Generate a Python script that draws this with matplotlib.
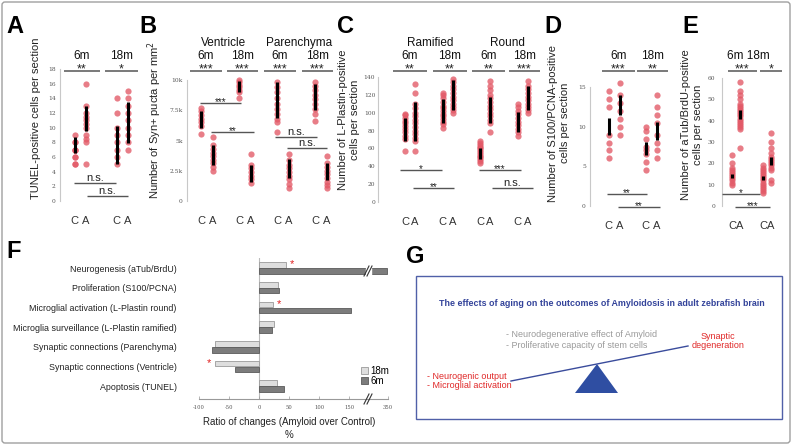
import matplotlib
matplotlib.use('Agg')
import matplotlib.pyplot as plt
from matplotlib.patches import Rectangle, Polygon, FancyBboxPatch
import numpy as np

plt.rcParams['font.family'] = ['Liberation Sans', 'DejaVu Sans']

W, H = 792, 445
fig = plt.figure(figsize=(W / 100, H / 100), dpi=100)

# ---------------------------------------------------------------- data
# Panel A: TUNEL-positive cells per section (6m, 18m)
a_ctrl = [[5, 5, 6, 6, 7, 7, 7, 8, 8, 9], [5, 6, 7, 8, 9, 10, 12, 14]]
a_amy = [[5, 8, 8.5, 9, 10, 10.5, 11, 11.5, 12, 13, 16], [7, 8, 9, 10, 11, 12, 13, 14, 15]]
a_ctrl_bar = [(6.5, 8.7), (5.1, 10.2)]
a_amy_bar = [(9.6, 13.0), (7.9, 13.5)]
a_ticks = [0, 2, 4, 6, 8, 10, 12, 14, 16, 18]

# Panel B: Syn+ puncta per mm2 (Ventricle 6m/18m, Parenchyma 6m/18m)
b_ctrl = [[7700, 7400, 7100, 6800, 6500, 6200, 5500],
          [10000, 9800, 9600, 9400, 9200, 9000, 8500],
          [9800, 9400, 9000, 8500, 8000, 7600, 7200, 6800, 6500, 5700],
          [9800, 9500, 9200, 8800, 8400, 8000, 7600, 7200, 6600]]
b_amy = [[5300, 4600, 4300, 4000, 3700, 3400, 3100, 2800, 2500],
         [3900, 3000, 2700, 2400, 2100, 1800, 1500],
         [3900, 3400, 3000, 2700, 2400, 2100, 1800, 1400, 1100],
         [3700, 3100, 2800, 2500, 2200, 1900, 1600, 1300, 1100]]
b_ctrl_bar = [(6000, 7400), (9000, 9900), (6900, 9800), (7500, 9700)]
b_amy_bar = [(3000, 4600), (1600, 3000), (1900, 3500), (1700, 3100)]
b_ticks = [0, 2500, 5000, 7500, 10000]
b_ticklabels = ['0', '2.5k', '5k', '7.5k', '10k']

# Panel C: L-Plastin-positive cells (Ramified 6m/18m, Round 6m/18m)
c_ctrl = [[57, 70, 74, 78, 82, 85, 88, 91, 94, 97, 98],
          [83, 87, 90, 93, 96, 99, 102, 105, 108, 112, 116, 120, 122],
          [44, 46, 48, 50, 52, 54, 56, 58, 60, 62, 64, 66, 68],
          [74, 78, 82, 86, 90, 94, 98, 102, 106, 110]]
c_amy = [[57, 68, 72, 76, 80, 84, 88, 92, 96, 100, 105, 110, 122, 132],
         [100, 103, 106, 110, 114, 118, 122, 126, 130, 134, 138],
         [78, 88, 92, 96, 100, 104, 108, 112, 116, 120, 125, 130, 135],
         [100, 103, 106, 110, 114, 118, 122, 126, 130, 135]]
c_ctrl_bar = [(68, 94), (88, 115), (48, 60), (78, 101)]
c_amy_bar = [(68, 112), (103, 137), (88, 118), (103, 130)]
c_ticks = [0, 20, 40, 60, 80, 100, 120, 140]

# Panel D: S100/PCNA-positive cells (6m, 18m)
d_ctrl = [[6, 7, 8, 9, 12.5, 13.5, 14.5], [4.5, 5.5, 6.5, 7, 7.5, 8.5, 9.5, 10]]
d_amy = [[9, 10, 11, 12, 13, 14, 15.5], [6, 7, 8, 9, 10.5, 11.5, 12.5, 14]]
d_ctrl_bar = [(8.9, 11.1), (6.4, 8.1)]
d_amy_bar = [(11.5, 14.0), (8.3, 10.6)]
d_ticks = [0, 5, 10, 15]

# Panel E: aTub/BrdU-positive cells (6m, 18m)
e_ctrl = [[10, 11, 12, 13, 14, 15, 16, 17, 18, 20, 24],
          [6, 7, 8, 9, 10, 11, 12, 13, 14, 15, 16, 17, 18, 19]]
e_amy = [[27, 36, 37, 38, 39, 40, 41, 42, 43, 44, 45, 46, 47, 48, 50, 52, 54, 58],
         [11, 12, 17, 18, 19, 20, 21, 22, 23, 25, 27, 30, 34]]
e_ctrl_bar = [(13.2, 15.0), (12.0, 14.0)]
e_amy_bar = [(41.0, 45.0), (19.0, 23.0)]
e_ticks = [0, 10, 20, 30, 40, 50, 60]

# Panel F: ratio of changes (Amyloid over Control), %
f_cats = ['Neurogenesis (aTub/BrdU)', 'Proliferation (S100/PCNA)',
          'Microglial activation (L-Plastin round)',
          'Microglia surveillance (L-Plastin ramified)',
          'Synaptic connections (Parenchyma)', 'Synaptic connections (Ventricle)',
          'Apoptosis (TUNEL)']
f_18m = [45, 32, 24, 25, -73, -73, 30]
f_6m = [345, 34, 153, 22, -79, -40, 42]
f_sig18 = [True, False, True, False, False, True, False]
f_ticks = [-100, -50, 0, 50, 100, 150, 350]

# ---------------------------------------------------------------- helpers
def px_axes(x0, y0, x1, y1, **kw):
    return fig.add_axes([x0 / W, 1 - y1 / H, (x1 - x0) / W, (y1 - y0) / H], **kw)

DOT = '#e25866'


def scatter_panel(left, right, c0, sp, ybot, ytop, ymax, off_px, ctrl, amy,
                  cbar, abar, ticks, ticklabels=None, pad=3):
    ax = px_axes(left, ytop, right, ybot)
    n = len(ctrl)
    off = off_px / sp
    ax.set_xlim((left - c0) / sp, (right - c0) / sp)
    ax.set_ylim(0, ymax)
    xs = []
    for i in range(n):
        xc, xa = i - off, i + off
        xs += [xc, xa]
        ax.scatter([xc] * len(ctrl[i]), ctrl[i], s=20, color=DOT, alpha=0.78,
                   linewidths=0, zorder=2, clip_on=False)
        ax.scatter([xa] * len(amy[i]), amy[i], s=20, color=DOT, alpha=0.78,
                   linewidths=0, zorder=2, clip_on=False)
        ax.plot([xc, xc], cbar[i], color='black', lw=2.2, zorder=3, solid_capstyle='butt')
        ax.plot([xa, xa], abar[i], color='black', lw=2.2, zorder=3, solid_capstyle='butt')
    for s in ['top', 'right', 'bottom']:
        ax.spines[s].set_visible(False)
    ax.spines['left'].set_color('#c8c8c8')
    ax.spines['left'].set_linewidth(0.8)
    ax.set_yticks(ticks)
    ax.set_yticklabels(ticklabels if ticklabels else [str(t) for t in ticks],
                       fontsize=4.3, color='#555', family='DejaVu Serif')
    ax.tick_params(axis='y', length=0, pad=pad)
    ax.set_xticks(xs)
    ax.set_xticklabels(['C', 'A'] * n, fontsize=8, color='#333')
    ax.tick_params(axis='x', length=0, pad=11)
    ax.patch.set_alpha(0)
    return ax


# ---------------------------------------------------------------- scatter panels
scatter_panel(60, 140, 80, 42, 201, 201 - 18 * 7.33, 18, 5.5,
              a_ctrl, a_amy, a_ctrl_bar, a_amy_bar, a_ticks)
scatter_panel(187, 338, 207, 38, 201, 80, 10000, 6,
              b_ctrl, b_amy, b_ctrl_bar, b_amy_bar, b_ticks, b_ticklabels)
scatter_panel(378, 545, 410, 37.5, 202, 77, 140, 5,
              c_ctrl, c_amy, c_ctrl_bar, c_amy_bar, c_ticks, pad=2)
scatter_panel(590, 672, 614, 37, 206, 87, 15, 5.5,
              d_ctrl, d_amy, d_ctrl_bar, d_amy_bar, d_ticks)
scatter_panel(722, 786, 736, 31, 206, 78, 60, 4,
              e_ctrl, e_amy, e_ctrl_bar, e_amy_bar, e_ticks, pad=5)

# ---------------------------------------------------------------- panel F
def fwd(v):
    v = np.asarray(v, dtype=float)
    return np.where(v <= 180, v, 180 + (v - 180) * 35.0 / 170.0)


def inv(u):
    u = np.asarray(u, dtype=float)
    return np.where(u <= 180, u, 180 + (u - 180) * 170.0 / 35.0)


axf = px_axes(199, 258, 388, 399)
axf.set_xscale('function', functions=(fwd, inv))
axf.set_xlim(-100, 350)
yy = np.arange(len(f_cats))
axf.set_ylim((399 - 268) / 19.7, (258 - 268) / 19.7)
bh = 0.28
axf.barh(yy - 0.15, f_18m, height=bh, color='#dedede', edgecolor='#9a9a9a', linewidth=0.6,
         label='18m', zorder=2)
axf.barh(yy + 0.15, f_6m, height=bh, color='#7c7c7c', edgecolor='#5a5a5a', linewidth=0.6,
         label='6m', zorder=2)
axf.axvline(0, color='#bbbbbb', lw=0.8, zorder=1)
for i, sig in enumerate(f_sig18):
    if sig:
        v = f_18m[i]
        xs = v + 6 if v > 0 else v - 6
        axf.text(xs, yy[i] - 0.18, '*', color='#e02020', fontsize=8,
                 ha='left' if v > 0 else 'right', va='center')
for s in ['top', 'right', 'left']:
    axf.spines[s].set_visible(False)
axf.spines['bottom'].set_color('#999')
axf.spines['bottom'].set_linewidth(0.8)
axf.set_xticks(f_ticks)
axf.set_xticklabels([str(t) for t in f_ticks], fontsize=3.8, color='#555', family='DejaVu Serif')
axf.tick_params(axis='x', length=2, width=0.5, color='#999', pad=4, direction='in')
axf.set_yticks(yy)
axf.set_yticklabels(f_cats, fontsize=6.4, color='#222')
axf.tick_params(axis='y', length=0, pad=16)
axf.legend(loc='upper left', bbox_to_anchor=(0.83, 0.27), frameon=False, fontsize=7,
           handlelength=0.7, handleheight=0.7, handletextpad=0.3, labelspacing=0.05,
           borderpad=0)
axf.patch.set_alpha(0)

# ---------------------------------------------------------------- overlay (annotations)
ov = fig.add_axes([0, 0, 1, 1], zorder=10)
ov.set_xlim(0, W)
ov.set_ylim(H, 0)
ov.axis('off')
ov.patch.set_alpha(0)

# figure frame
ov.add_patch(FancyBboxPatch((2, 2), W - 4, H - 4, boxstyle='round,pad=0,rounding_size=3',
                            fill=False, edgecolor='#a0a0a0', lw=1))

LC = '#555555'


def top_bracket(x0, x1, label, stars, y=71):
    ov.plot([x0, x1], [y, y], color=LC, lw=1.1, solid_capstyle='butt')
    ov.text((x0 + x1) / 2, y + 1.5, stars, ha='center', va='baseline', fontsize=9, color='#222')
    if label:
        ov.text((x0 + x1) / 2, 59, label, ha='center', va='baseline', fontsize=8.5, color='#111')


def low_bracket(x0, x1, y, text):
    ov.plot([x0, x1], [y, y], color=LC, lw=1.0, solid_capstyle='butt')
    if text == 'n.s.':
        ov.text((x0 + x1) / 2, y - 2, text, ha='center', va='baseline', fontsize=8, color='#222')
    else:
        ov.text((x0 + x1) / 2, y + 2, text, ha='center', va='baseline', fontsize=7, color='#222')


# panel labels
for lab, x, y in [('A', 6, 33), ('B', 139, 33), ('C', 337, 33), ('D', 544, 33), ('E', 682, 33),
                  ('F', 6, 258), ('G', 406, 263)]:
    ov.text(x, y, lab, fontsize=17, fontweight='bold', ha='left', va='baseline', color='black')

# y labels
ov.text(36, 118, 'TUNEL-positive cells per section', rotation=90, ha='center', va='center',
        fontsize=8, color='#222')
ov.text(155, 120, 'Number of Syn+ pucta per mm$^2$', rotation=90, ha='center', va='center',
        fontsize=8, color='#222')
ov.text(349, 120, 'Number of L-Plastin-positive\ncells per section', rotation=90, ha='center',
        va='center', fontsize=8, color='#222', linespacing=1.15, multialignment='center')
ov.text(559, 123, 'Number of S100/PCNA-positive\ncells per section', rotation=90, ha='center',
        va='center', fontsize=8, color='#222', linespacing=1.2, multialignment='center')
ov.text(692, 125, 'Number of aTub/BrdU-positive\ncells per section', rotation=90, ha='center',
        va='center', fontsize=8, color='#222', linespacing=1.2, multialignment='center')

# A
top_bracket(64, 100, '6m', '**')
top_bracket(105, 138, '18m', '*')
low_bracket(74, 116, 183, 'n.s.')
low_bracket(87, 128, 196, 'n.s.')
# B
ov.text(224, 46, 'Ventricle', ha='center', va='baseline', fontsize=8.5, color='#111')
ov.text(299, 46, 'Parenchyma', ha='center', va='baseline', fontsize=8.5, color='#111')
top_bracket(190, 222, '6m', '***')
top_bracket(227, 258, '18m', '***')
top_bracket(264, 296, '6m', '***')
top_bracket(302, 333, '18m', '***')
low_bracket(200, 241, 103, '***')
low_bracket(211, 254, 132, '**')
low_bracket(275, 317, 137, 'n.s.')
low_bracket(287, 327, 148, 'n.s.')
# C
ov.text(430, 46, 'Ramified', ha='center', va='baseline', fontsize=8.5, color='#111')
ov.text(507, 46, 'Round', ha='center', va='baseline', fontsize=8.5, color='#111')
top_bracket(393, 427, '6m', '**')
top_bracket(433, 467, '18m', '**')
top_bracket(472, 505, '6m', '**')
top_bracket(509, 540, '18m', '***')
low_bracket(400, 442, 170, '*')
low_bracket(413, 454, 188, '**')
low_bracket(479, 521, 170, '***')
low_bracket(492, 533, 188, 'n.s.')
# D
top_bracket(602, 635, '6m', '***')
top_bracket(637, 668, '18m', '**')
low_bracket(607, 647, 194, '**')
low_bracket(618, 660, 207, '**')
# E
ov.text(748, 59, '6m 18m', ha='center', va='baseline', fontsize=8.5, color='#111')
top_bracket(728, 757, None, '***')
top_bracket(760, 782, None, '*')
low_bracket(722, 760, 194, '*')
low_bracket(735, 770, 207, '***')

# F: axis breaks, x label
for (bx, by, gap) in [(368, 399, False), (368, 271, True)]:
    if gap:
        ov.add_patch(Rectangle((bx - 2.5, by - 3.5), 5, 7, color='white', zorder=5))
    for dx in (-1.5, 1.5):
        ov.plot([bx + dx - 2.5, bx + dx + 2.5], [by + 5, by - 5], color='#333', lw=0.8, zorder=6)
ov.text(289, 425, 'Ratio of changes (Amyloid over Control)', ha='center', va='baseline',
        fontsize=7, color='#222')
ov.text(289, 438, '%', ha='center', va='baseline', fontsize=7, color='#222')

# ---------------------------------------------------------------- panel G (schematic)
BLUE = '#3a4c9c'
ov.add_patch(Rectangle((416, 276), 782 - 416, 419 - 276, fill=False, edgecolor='#5060a8', lw=1))
ov.text(602, 303, 'The effects of aging on the outcomes of Amyloidosis in adult zebrafish brain',
        ha='center', va='center', fontsize=6.4, fontweight='bold', color='#33439a')
ov.text(506, 340, '- Neurodegenerative effect of Amyloid\n- Proliferative capacity of stem cells',
        ha='left', va='center', fontsize=6.5, color='#9a9a9a', linespacing=1.2)
ov.text(718, 341, 'Synaptic\ndegeneration', ha='center', va='center', fontsize=6.5,
        color='#e02828', linespacing=1.05)
ov.text(427, 381, '- Neurogenic output\n- Microglial activation', ha='left', va='center',
        fontsize=6.5, color='#e02828', linespacing=1.1)
ov.plot([511, 688], [381, 346], color=BLUE, lw=1.0)
ov.add_patch(Polygon([(597, 364), (575, 393), (618, 393)], closed=True, facecolor='#2f4ea2',
                     edgecolor='none'))

fig.savefig('out.png', dpi=100)
